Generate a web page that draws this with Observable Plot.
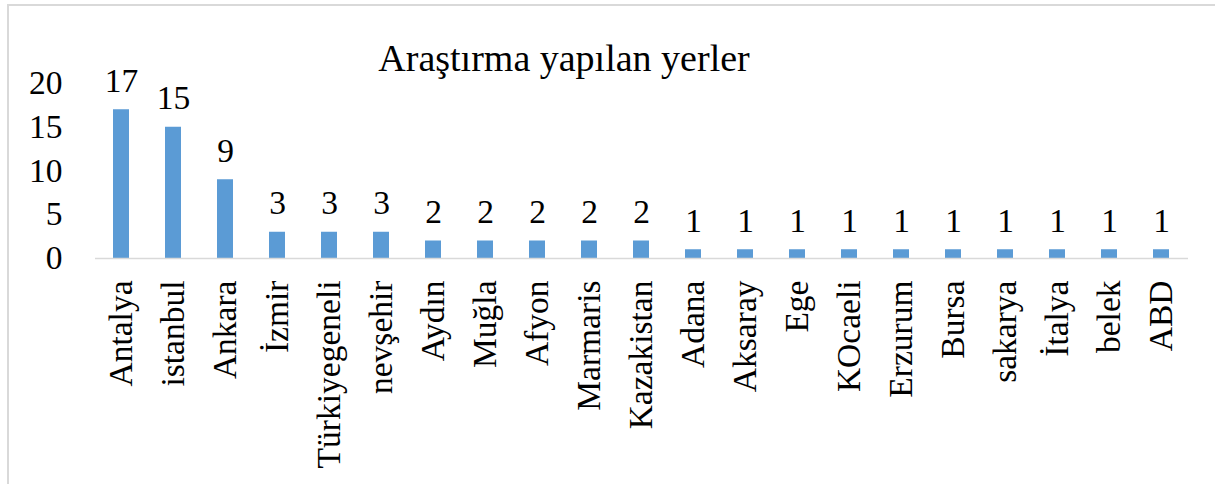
<!DOCTYPE html>
<html>
<head>
<meta charset="utf-8">
<script src="https://cdn.jsdelivr.net/npm/d3@7"></script>
<script src="https://cdn.jsdelivr.net/npm/@observablehq/plot@0.6"></script>
<style>
  html, body { margin: 0; padding: 0; background: #fff; }
  #wrap { position: relative; width: 1215px; height: 484px; overflow: hidden; }
  #border { position: absolute; left: 7px; top: 4px; width: 1210px; height: 490px;
            border-top: 2px solid #d9d9d9; border-left: 2px solid #d9d9d9; box-sizing: border-box; }
  #wrap svg, #wrap svg text { font-family: "Liberation Serif", "Times New Roman", serif !important; }
</style>
</head>
<body>
<div id="wrap"><div id="border"></div></div>
<script>
const title = "Araştırma yapılan yerler";
const categories = ["Antalya", "istanbul", "Ankara", "İzmir", "Türkiyegeneli", "nevşehir", "Aydın", "Muğla", "Afyon", "Marmaris", "Kazakistan", "Adana", "Aksaray", "Ege", "KOcaeli", "Erzurum", "Bursa", "sakarya", "İtalya", "belek", "ABD"];
const values = [17, 15, 9, 3, 3, 3, 2, 2, 2, 2, 2, 1, 1, 1, 1, 1, 1, 1, 1, 1, 1];
const yTicks = [0, 5, 10, 15, 20];

const data = categories.map((c, i) => ({category: c, value: values[i]}));
const ff = "Liberation Serif";

const chart = Plot.plot({
  width: 1215,
  height: 484,
  marginLeft: 95,
  marginRight: 27,
  marginTop: 83,
  marginBottom: 226,
  style: {fontFamily: ff, fontSize: "33.5px", color: "#000", background: "transparent", overflow: "visible"},
  x: {domain: categories, paddingInner: 0.69, paddingOuter: 0.345},
  y: {domain: [0, 20]},
  marks: [
    Plot.axisY({ticks: yTicks, tickSize: 0, tickPadding: 33, label: null, fontSize: 33.5, fontFamily: ff}),
    Plot.axisX({tickSize: 0, tickPadding: 22, tickRotate: -90, label: null, fontSize: 33.5, fontFamily: ff}),
    Plot.barY(data, {x: "category", y: "value", fill: "#5B9BD5"}),
    Plot.ruleY([0], {stroke: "#d9d9d9", strokeWidth: 1.5}),
    Plot.text(data, {x: "category", y: "value", text: d => String(d.value), lineAnchor: "bottom", dy: -18, fontSize: 33.5, fontFamily: ff, fill: "#000"}),
    Plot.text([title], {frameAnchor: "top", text: d => d, dx: -78, dy: -13, lineAnchor: "bottom", fontSize: 38, fontFamily: ff, fill: "#000"})
  ]
});
chart.style.position = "absolute";
chart.style.left = "0";
chart.style.top = "0";
document.getElementById("wrap").appendChild(chart);
</script>
</body>
</html>
